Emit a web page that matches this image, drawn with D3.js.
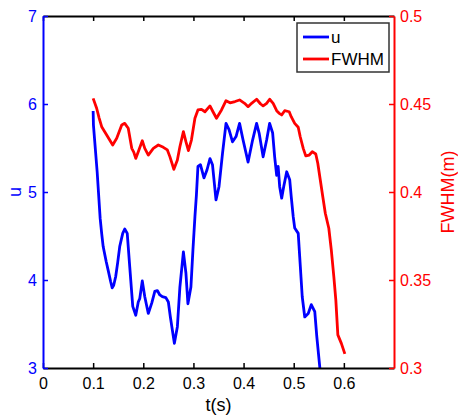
<!DOCTYPE html>
<html>
<head>
<meta charset="utf-8">
<script src="https://cdn.jsdelivr.net/npm/d3@7"></script>
<style>
body { margin: 0; background: #fff; }
svg { font-family: Arial, "Liberation Sans", sans-serif; }
</style>
</head>
<body>
<div class="chart"></div>
<script>
// u series (left axis)
const uTime = [0.100, 0.1006, 0.108, 0.114, 0.117, 0.120, 0.126, 0.130, 0.135, 0.138, 0.141, 0.145, 0.149,
    0.153, 0.159, 0.163, 0.168, 0.173, 0.179, 0.185, 0.190, 0.193, 0.198, 0.203, 0.210, 0.217, 0.223, 0.228, 0.233,
    0.238, 0.245, 0.250, 0.254, 0.262, 0.268, 0.273, 0.280, 0.285, 0.289, 0.295, 0.299, 0.303, 0.306, 0.309, 0.314,
    0.321, 0.327, 0.333, 0.338, 0.345, 0.351, 0.358, 0.365, 0.371, 0.378, 0.385, 0.392, 0.399, 0.409, 0.418, 0.426,
    0.431, 0.439, 0.446, 0.452, 0.458, 0.462, 0.466, 0.469, 0.472, 0.476, 0.480, 0.486, 0.492, 0.495, 0.499, 0.502,
    0.509, 0.512, 0.517, 0.522, 0.529, 0.535, 0.542, 0.546, 0.552, 0.555];
const uValues = [5.92, 5.76, 5.23, 4.70, 4.53, 4.38, 4.21, 4.11, 3.98, 3.91, 3.94, 4.04, 4.20,
    4.38, 4.53, 4.58, 4.53, 4.15, 3.70, 3.60, 3.75, 3.79, 3.99, 3.81, 3.62, 3.74, 3.87, 3.88, 3.83,
    3.81, 3.80, 3.75, 3.58, 3.28, 3.47, 3.92, 4.32, 4.08, 3.73, 3.92, 4.34, 4.72, 4.97, 5.29, 5.31,
    5.16, 5.25, 5.38, 5.31, 4.91, 5.06, 5.44, 5.78, 5.71, 5.57, 5.63, 5.78, 5.59, 5.34, 5.59, 5.78,
    5.67, 5.40, 5.59, 5.78, 5.67, 5.40, 5.19, 5.29, 5.06, 4.93, 5.06, 5.23, 5.14, 4.95, 4.72, 4.59,
    4.53, 4.26, 3.81, 3.58, 3.62, 3.72, 3.64, 3.36, 3.01, 2.81];

// FWHM series (right axis)
const fTime = [0.100, 0.107, 0.112, 0.117, 0.127, 0.133, 0.139, 0.147, 0.157, 0.163, 0.170, 0.177, 0.181, 0.185,
    0.190, 0.198, 0.203, 0.210, 0.220, 0.230, 0.240, 0.248, 0.253, 0.261, 0.268, 0.273, 0.280, 0.285, 0.290,
    0.296, 0.303, 0.309, 0.316, 0.323, 0.333, 0.339, 0.346, 0.356, 0.365, 0.373, 0.383, 0.392, 0.402, 0.409,
    0.416, 0.426, 0.434, 0.439, 0.446, 0.452, 0.459, 0.466, 0.471, 0.476, 0.482, 0.491, 0.495, 0.502, 0.509,
    0.513, 0.519, 0.524, 0.531, 0.537, 0.544, 0.548, 0.553, 0.558, 0.563, 0.570, 0.575, 0.580, 0.584, 0.588,
    0.595, 0.602];
const fValues = [0.4532, 0.4476, 0.4420, 0.4371, 0.4324, 0.4295, 0.4267, 0.4305, 0.4381, 0.4390, 0.4362, 0.4248,
    0.4227, 0.4191, 0.4229, 0.4291, 0.4248, 0.4210, 0.4248, 0.4267, 0.4254, 0.4239, 0.4201, 0.4129, 0.4182,
    0.4257, 0.4343, 0.4286, 0.4235, 0.4295, 0.4419, 0.4466, 0.4470, 0.4456, 0.4489, 0.4456, 0.4419, 0.4466,
    0.4519, 0.4507, 0.4514, 0.4523, 0.4504, 0.4485, 0.4504, 0.4527, 0.4500, 0.4489, 0.4504, 0.4527, 0.4504,
    0.4462, 0.4447, 0.4438, 0.4462, 0.4456, 0.4428, 0.4390, 0.4368, 0.4314, 0.4248, 0.4205, 0.4210, 0.4229,
    0.4216, 0.4163, 0.4068, 0.3973, 0.3879, 0.3794, 0.3670, 0.3519, 0.3386, 0.3188, 0.3140, 0.3080];

const xTicks = [0, 0.1, 0.2, 0.3, 0.4, 0.5, 0.6];
const uTicks = [3, 4, 5, 6, 7];
const fTicks = [0.3, 0.35, 0.4, 0.45, 0.5];
const seriesNames = ['u', 'FWHM'];

const margin = { top: 16, right: 64, bottom: 47, left: 43 };
const fullWidth = 458, fullHeight = 415;
const width = fullWidth - margin.left - margin.right;
const height = fullHeight - margin.top - margin.bottom;

const svg = d3.select('.chart')
    .append('svg')
        .attr('width', fullWidth)
        .attr('height', fullHeight);

const chart = svg.append('g')
    .attr('transform', `translate(${margin.left}, ${margin.top})`);

const xScale = d3.scaleLinear().domain([0, 0.7]).range([0, width]);
const uScale = d3.scaleLinear().domain([3, 7]).range([height, 0]);
const fScale = d3.scaleLinear().domain([0.3, 0.5]).range([height, 0]);

chart.append('clipPath')
    .attr('id', 'plot-clip')
    .append('rect')
        .attr('width', width)
        .attr('height', height);

const uLine = d3.line()
    .x((d, i) => xScale(uTime[i]))
    .y(d => uScale(d));
const fLine = d3.line()
    .x((d, i) => xScale(fTime[i]))
    .y(d => fScale(d));

const lines = chart.append('g').attr('clip-path', 'url(#plot-clip)');
lines.append('path')
    .datum(fValues)
    .attr('d', fLine)
    .attr('fill', 'none')
    .attr('stroke', '#ff0000')
    .attr('stroke-width', 2.8)
    .attr('stroke-linejoin', 'round');
lines.append('path')
    .datum(uValues)
    .attr('d', uLine)
    .attr('fill', 'none')
    .attr('stroke', '#0000ff')
    .attr('stroke-width', 2.8)
    .attr('stroke-linejoin', 'round');

// axes (ticks pointing inward, matlab style)
function styleAxis(g, color) {
    g.select('.domain').attr('stroke', color).attr('stroke-width', 2);
    g.selectAll('.tick line').attr('stroke', color).attr('stroke-width', 1.5);
    g.selectAll('.tick text').attr('fill', color).style('font-size', '16px');
}

chart.append('g')
    .attr('transform', `translate(0, ${height})`)
    .call(d3.axisBottom(xScale).tickValues(xTicks).tickFormat(d3.format('')).tickSizeInner(-5).tickSizeOuter(0).tickPadding(10))
    .call(g => styleAxis(g, '#000'));

chart.append('g')
    .call(d3.axisTop(xScale).tickValues(xTicks).tickFormat('').tickSizeInner(-5).tickSizeOuter(0))
    .call(g => styleAxis(g, '#000'));

chart.append('g')
    .call(d3.axisLeft(uScale).tickValues(uTicks).tickFormat(d3.format('')).tickSizeInner(-5).tickSizeOuter(0).tickPadding(6))
    .call(g => styleAxis(g, '#0000ff'));

chart.append('g')
    .attr('transform', `translate(${width}, 0)`)
    .call(d3.axisRight(fScale).tickValues(fTicks).tickFormat(d3.format('')).tickSizeInner(-5).tickSizeOuter(0).tickPadding(6))
    .call(g => styleAxis(g, '#ff0000'));

// axis labels
chart.append('text')
    .attr('x', width / 2)
    .attr('y', height + 43)
    .attr('text-anchor', 'middle')
    .style('font-size', '18px')
    .text('t(s)');

chart.append('text')
    .attr('transform', `translate(-22, ${height / 2}) rotate(-90)`)
    .attr('text-anchor', 'middle')
    .attr('fill', '#0000ff')
    .style('font-size', '18px')
    .text('u');

chart.append('text')
    .attr('transform', `translate(${width + 60}, ${height / 2}) rotate(-90)`)
    .attr('text-anchor', 'middle')
    .attr('fill', '#ff0000')
    .style('font-size', '18px')
    .text('FWHM(m)');

// legend
const legend = chart.append('g')
    .attr('transform', `translate(${width - 97}, 7)`);
legend.append('rect')
    .attr('width', 92)
    .attr('height', 49)
    .attr('fill', '#fff')
    .attr('stroke', '#333')
    .attr('stroke-width', 1.5);
const legendColors = ['#0000ff', '#ff0000'];
seriesNames.forEach((name, i) => {
    const yy = 14 + i * 22;
    legend.append('line')
        .attr('x1', 6).attr('x2', 32)
        .attr('y1', yy).attr('y2', yy)
        .attr('stroke', legendColors[i])
        .attr('stroke-width', 2.8);
    legend.append('text')
        .attr('x', 34)
        .attr('y', yy + 6)
        .style('font-size', '17px')
        .text(name);
});
</script>
</body>
</html>
